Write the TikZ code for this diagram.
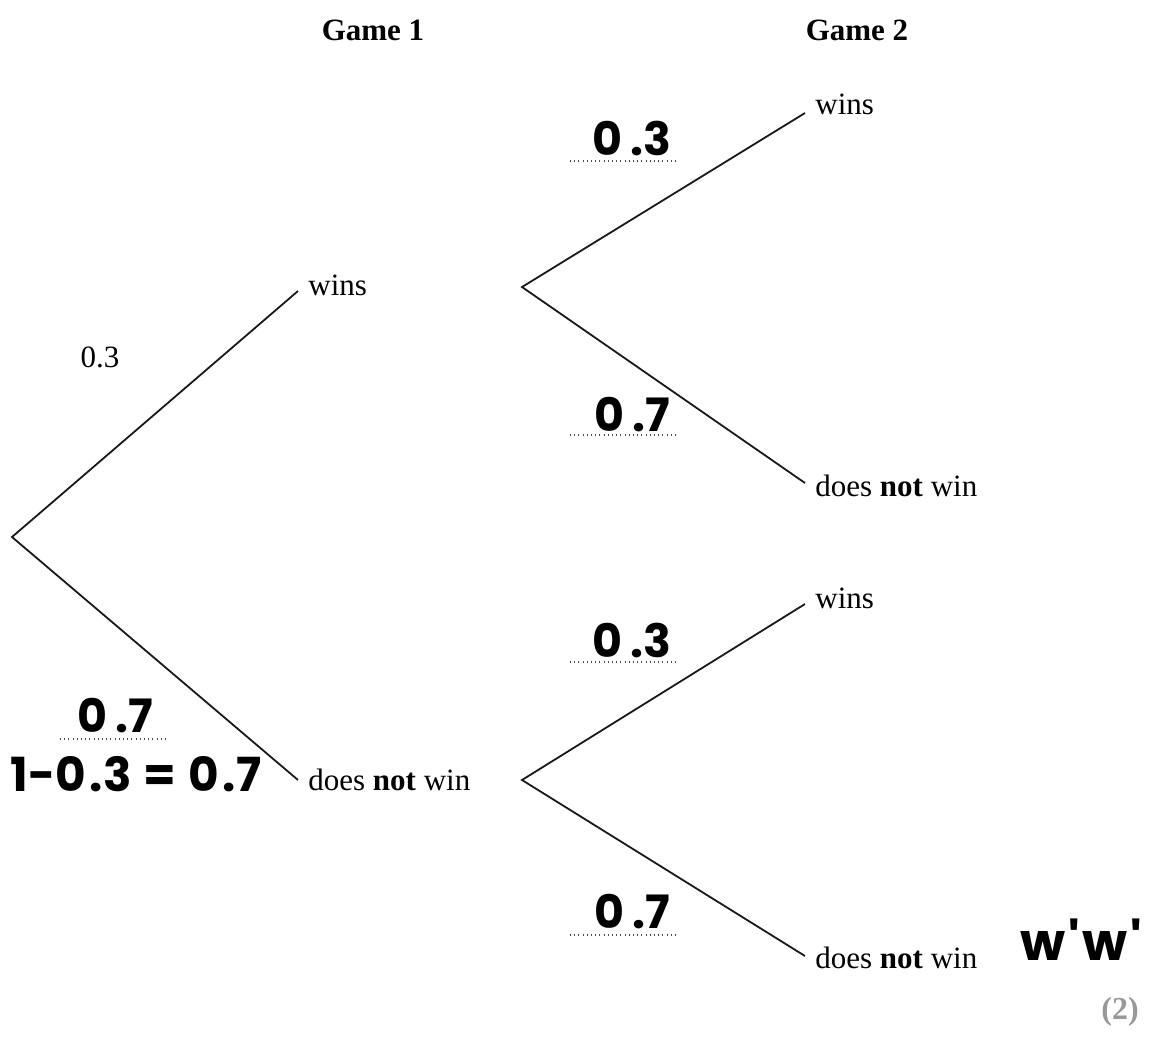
\documentclass[tikz,border=0pt]{standalone}
\usepackage{fontspec}
\setmainfont{Liberation Serif}
\newfontfamily\handfont{Poppins}
\begin{document}
\begin{tikzpicture}[x=0.5pt,y=-0.5pt,
  lbl/.style={font=\fontsize{15.5}{18}\selectfont, inner sep=0pt},
  head/.style={font=\fontsize{15.5}{18}\selectfont\bfseries, inner sep=0pt},
  hand/.style={font=\fontsize{23}{26}\selectfont\handfont\bfseries, inner sep=0pt},
  branch/.style={line width=0.9pt, black!90},
  dotline/.style={line width=0.6pt, black!70, dash pattern=on 0.5pt off 1.6pt},
  mark2/.style={font=\fontsize{16}{18}\selectfont\bfseries, text=black!40, inner sep=0pt}]
\useasboundingbox (0,0) rectangle (1157,1040);
% headings
\node[head] (g1) at (373,30) {Game 1};
\node[head] (g2) at (857,30) {Game 2};
% coordinates
\coordinate (r) at (12,537);
\coordinate (e1) at (298,291);
\coordinate (e2) at (298,780);
\coordinate (s1) at (522,287);
\coordinate (s2) at (522,780);
\coordinate (t1) at (805,113);
\coordinate (t2) at (805,483);
\coordinate (t3) at (805,604);
\coordinate (t4) at (805,956);
% labels
\node[lbl,anchor=west] (w1) at (308,285) {wins};
\node[lbl,anchor=west] (n1) at (308,780) {does \textbf{not} win};
\node[lbl,anchor=west] (w2) at (815,104) {wins};
\node[lbl,anchor=west] (n2) at (815,486) {does \textbf{not} win};
\node[lbl,anchor=west] (w3) at (815,598) {wins};
\node[lbl,anchor=west] (n3) at (815,958) {does \textbf{not} win};
\node[lbl] (p1) at (100,357) {0.3};
% branches
\draw[branch] (e1) -- (r) -- (e2);
\draw[branch] (t1) -- (s1) -- (t2);
\draw[branch] (t3) -- (s2) -- (t4);
% answer lines
\coordinate (d1a) at (570,161); \coordinate (d1b) at (677,161);
\coordinate (d2a) at (570,435); \coordinate (d2b) at (677,435);
\coordinate (d3a) at (570,662); \coordinate (d3b) at (677,662);
\coordinate (d4a) at (570,935); \coordinate (d4b) at (677,935);
\coordinate (d5a) at (60,739);  \coordinate (d5b) at (168,739);
\draw[dotline] (d1a) -- (d1b);
\draw[dotline] (d2a) -- (d2b);
\draw[dotline] (d3a) -- (d3b);
\draw[dotline] (d4a) -- (d4b);
\draw[dotline] (d5a) -- (d5b);
% handwritten answers
\node[hand] (h1) at (632,138) {0\kern4pt.3};
\node[hand] (h2) at (632,415) {0\kern4pt.7};
\node[hand] (h3) at (632,640) {0\kern4pt.3};
\node[hand] (h4) at (632,912) {0\kern4pt.7};
\node[hand] (h5) at (115,716) {0\kern4pt.7};
\node[hand,anchor=west,font=\fontsize{23.5}{26}\selectfont\handfont\bfseries] (h6) at (10,774) {1-0\kern2pt.3\kern6pt=\kern6pt0\kern2pt.7};
\node[hand,anchor=west,font=\fontsize{26}{30}\selectfont\handfont\bfseries] (h7) at (1020,940) {w\kern1.5pt'\kern1.5pt w\kern1.5pt'};
\node[mark2] (m2) at (1120,1012) {(2)};
\end{tikzpicture}
\end{document}
